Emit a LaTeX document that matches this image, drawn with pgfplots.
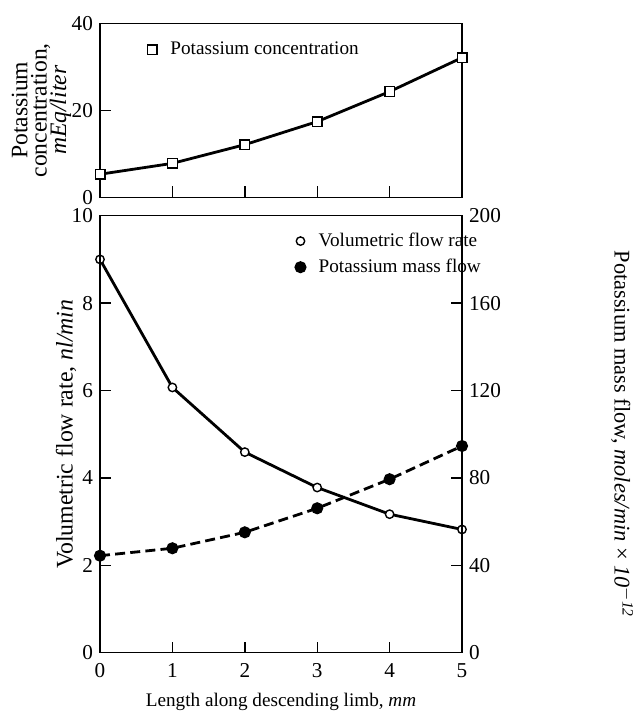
\documentclass[border=0pt]{standalone}
\usepackage{pgfplots}
\pgfplotsset{compat=1.18}
\usepackage{fontspec}
\setmainfont{Liberation Serif}

\pgfplotsset{
  panel/.style={
    scale only axis,
    width=181pt,
    xmin=0, xmax=5,
    xtick={0,1,2,3,4,5},
    tick align=inside,
    major tick length=5.5pt,
    axis line style={line width=0.7pt},
    every tick/.style={black, line width=0.7pt},
    /pgf/number format/assume math mode=true,
    tick label style={font=\fontsize{10.6}{12}\selectfont},
    label style={font=\fontsize{9.6}{12}\selectfont},
    legend style={font=\fontsize{9.6}{12}\selectfont, draw=none, fill=none,
      inner sep=0pt, row sep=0pt, nodes={inner sep=2.4pt}, cells={anchor=west}},
    legend image code/.code={\draw[#1,only marks] plot coordinates {(0pt,0pt)}; \path (6pt,0pt);},
  },
  curve/.style={black, line width=1.4pt},
}

\begin{document}
\begin{tikzpicture}
\useasboundingbox (0pt,0pt) rectangle (320pt,-357.5pt);

% upper panel: concentration
\begin{axis}[
  panel,
  at={(50pt,-98.65pt)}, anchor=south west,
  height=87pt,
  ymin=0, ymax=40,
  ytick={0,20,40},
  xtick pos=bottom, ytick pos=left,
  xticklabels={},
  ylabel={Potassium\\[-4.3pt]concentration,\\[-4.3pt]\textit{mEq/liter}},
  ylabel style={at={(axis description cs:-0.162,0.5)}, anchor=center, align=center,
    font=\fontsize{11.8}{14}\selectfont},
  legend style={at={(axis description cs:0.13,0.847)}, anchor=west},
]
\addplot[curve, mark=square*, mark size=2.4pt, mark options={solid, fill=white, line width=0.7pt}]
  coordinates {(0,5.3) (1,7.8) (2,12.1) (3,17.4) (4,24.3) (5,32.1)};
\addlegendentry{Potassium concentration}
\end{axis}

% lower panel: volumetric flow (left axis)
\begin{axis}[
  panel,
  at={(50pt,-326.35pt)}, anchor=south west,
  height=218.5pt,
  ymin=0, ymax=10,
  ytick={0,2,4,6,8,10},
  xtick pos=bottom, ytick pos=left,
  xticklabel style={yshift=-2pt},
  xlabel={Length along descending limb, \textit{mm}},
  xlabel style={at={(axis description cs:0.5,-0.113)}, anchor=center},
  ylabel={Volumetric flow rate, \textit{nl/min}},
  ylabel style={at={(axis description cs:-0.094,0.5)}, anchor=center,
    font=\fontsize{11.9}{12}\selectfont},
]
\addplot[curve, mark=*, mark size=2.1pt, mark options={solid, fill=white, line width=0.7pt}]
  coordinates {(0,9.0) (1,6.07) (2,4.59) (3,3.78) (4,3.17) (5,2.82)};
\end{axis}

% lower panel: mass flow (right axis)
\begin{axis}[
  panel,
  at={(50pt,-326.35pt)}, anchor=south west,
  height=218.5pt,
  ymin=0, ymax=200,
  ytick={0,40,80,120,160,200},
  hide x axis,
  ytick pos=right, yticklabel pos=right,
  ylabel={Potassium mass flow, \textit{moles/min} × \textit{10\textsuperscript{$-$12}}},
  ylabel style={at={(axis description cs:1.442,0.5)}, anchor=center, rotate=180,
    font=\fontsize{11.2}{12}\selectfont},
  legend style={at={(axis description cs:0.54,0.912)}, anchor=west},
]
\addlegendimage{curve, mark=*, mark size=2.1pt, mark options={solid, fill=white, line width=0.7pt}}
\addlegendentry{Volumetric flow rate}
\addplot[curve, dashed, dash pattern=on 5pt off 2.6pt, mark=*, mark size=2.3pt, mark options={solid, fill=black}]
  coordinates {(0,44.4) (1,47.8) (2,55.1) (3,66.1) (4,79.4) (5,94.6)};
\addlegendentry{Potassium mass flow}
\end{axis}
\end{tikzpicture}
\end{document}
